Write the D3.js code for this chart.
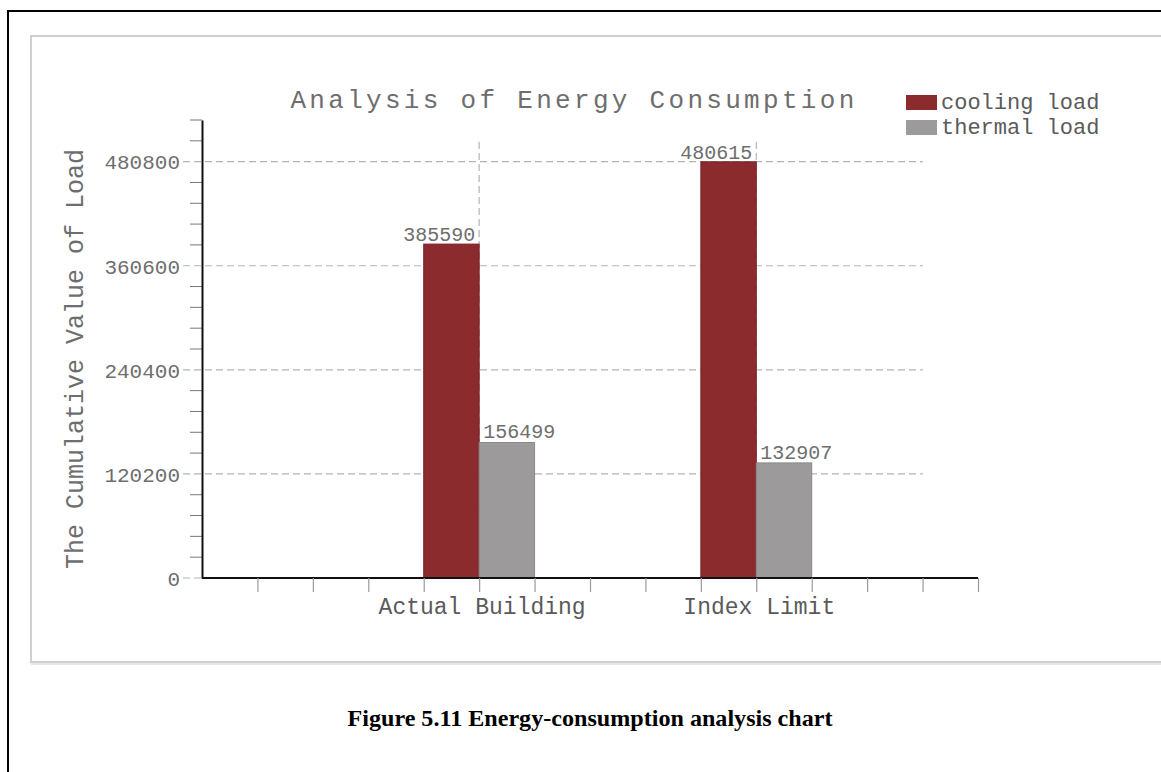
<!DOCTYPE html>
<html>
<head>
<meta charset="utf-8">
<script src="https://cdn.jsdelivr.net/npm/d3@7"></script>
<style>
  html, body { margin: 0; padding: 0; background: #fff; }
  svg { display: block; }
</style>
</head>
<body>
<svg id="chart" width="1161" height="772"></svg>
<script>
// ---- data ----
const categories = ["Actual Building", "Index Limit"];
const seriesNames = ["cooling load", "thermal load"];
const coolingLoad = [385590, 480615];
const thermalLoad = [156499, 132907];
const yTickValues = [0, 120200, 240400, 360600, 480800];
const yMax = 528880;
const yMinorStep = 24040;
const chartTitle = "Analysis of Energy Consumption";
const yAxisTitle = "The Cumulative Value of Load";
const caption = "Figure 5.11 Energy-consumption analysis chart";

const colors = ["#8c2b2e", "#9c9a9a"];
const mono = "'Liberation Mono', 'Courier New', monospace";
const textGray = "#6e6e6e";

const svg = d3.select("#chart");

// outer frame and inner panel
svg.append("rect").attr("x", 8).attr("y", 11).attr("width", 1200).attr("height", 800)
  .attr("fill", "none").attr("stroke", "#000").attr("stroke-width", 2);
svg.append("rect").attr("x", 31).attr("y", 36).attr("width", 1200).attr("height", 626)
  .attr("fill", "#fff").attr("stroke", "#cfcfcf").attr("stroke-width", 2);
svg.append("line").attr("x1", 31).attr("x2", 1161).attr("y1", 664).attr("y2", 664)
  .attr("stroke", "#e6e6e6").attr("stroke-width", 2);

// scales
const slots = 14;
const x = d3.scaleLinear().domain([0, slots]).range([202, 978]);
const y = d3.scaleLinear().domain([0, yMax]).range([578, 120]);
const slotW = x(1) - x(0);
const centerSlot = i => 5 * (i + 1);

// horizontal dashed gridlines
const g = svg.append("g");
g.selectAll("line.hgrid").data(yTickValues.slice(1)).join("line")
  .attr("class", "hgrid")
  .attr("x1", 183).attr("x2", 923)
  .attr("y1", d => y(d)).attr("y2", d => y(d))
  .attr("stroke", "#b4b4b4").attr("stroke-width", 1.2)
  .attr("stroke-dasharray", "7,4");
g.append("line").attr("x1", 183).attr("x2", 202).attr("y1", y(0)).attr("y2", y(0))
  .attr("stroke", "#b4b4b4").attr("stroke-width", 1.2).attr("stroke-dasharray", "7,4");

// vertical dashed gridlines at category centres
g.selectAll("line.vgrid").data(categories).join("line")
  .attr("class", "vgrid")
  .attr("x1", (d, i) => x(centerSlot(i))).attr("x2", (d, i) => x(centerSlot(i)))
  .attr("y1", 142).attr("y2", 578)
  .attr("stroke", "#b4b4b4").attr("stroke-width", 1.2).attr("stroke-dasharray", "7,4");

// bars
const seriesData = [coolingLoad, thermalLoad];
seriesData.forEach((vals, s) => {
  svg.append("g").selectAll("rect").data(vals).join("rect")
    .attr("x", (d, i) => x(centerSlot(i) - 1 + s))
    .attr("width", slotW)
    .attr("y", d => y(d))
    .attr("height", d => y(0) - y(d))
    .attr("fill", colors[s])
    .attr("stroke", s === 0 ? "#7a2528" : "#8a8888")
    .attr("stroke-width", 1);
});

// value labels
svg.append("g").selectAll("text").data(coolingLoad).join("text")
  .attr("x", (d, i) => x(centerSlot(i)) - 4)
  .attr("y", d => y(d) - 3)
  .attr("text-anchor", "end")
  .attr("font-family", mono).attr("font-size", 20).attr("fill", textGray)
  .text(d => d);
svg.append("g").selectAll("text").data(thermalLoad).join("text")
  .attr("x", (d, i) => x(centerSlot(i)) + 4)
  .attr("y", d => y(d) - 4)
  .attr("text-anchor", "start")
  .attr("font-family", mono).attr("font-size", 20).attr("fill", textGray)
  .text(d => d);

// y axis: minor ticks
const minorVals = d3.range(0, yMax + 1, yMinorStep).filter(v => !yTickValues.includes(v));
svg.append("g").selectAll("line").data(minorVals).join("line")
  .attr("x1", 190).attr("x2", 202)
  .attr("y1", d => y(d)).attr("y2", d => y(d))
  .attr("stroke", "#777").attr("stroke-width", 1);

// y axis line + labels
const yAxis = d3.axisLeft(y).tickValues(yTickValues).tickFormat(d3.format("d"))
  .tickSize(0).tickPadding(22);
const ya = svg.append("g").attr("transform", "translate(202,0)").call(yAxis);
ya.select(".domain").attr("stroke", "#111").attr("stroke-width", 2);
ya.selectAll("text").attr("font-family", mono).attr("font-size", 21)
  .attr("fill", textGray).attr("dy", "0.35em");

// x axis
const xAxis = d3.axisBottom(x).tickValues(d3.range(1, slots + 1)).tickSize(14).tickFormat("");
const xa = svg.append("g").attr("transform", "translate(0,578)").call(xAxis);
xa.select(".domain").attr("stroke", "#111").attr("stroke-width", 2).attr("d", "M202,0H978");
xa.selectAll(".tick line").attr("stroke", "#9a9a9a").attr("stroke-width", 1.2);

// category labels
svg.append("g").selectAll("text").data(categories).join("text")
  .attr("x", (d, i) => x(centerSlot(i)) + 3)
  .attr("y", 614)
  .attr("text-anchor", "middle")
  .attr("font-family", mono).attr("font-size", 23).attr("fill", "#5a5a5a")
  .text(d => d);

// title
svg.append("text").attr("x", 574).attr("y", 108)
  .attr("text-anchor", "middle")
  .attr("font-family", mono).attr("font-size", 26).attr("letter-spacing", 3.3)
  .attr("fill", textGray).text(chartTitle);

// y axis title
svg.append("text").attr("transform", "translate(83,359) rotate(-90)")
  .attr("text-anchor", "middle")
  .attr("font-family", mono).attr("font-size", 25).attr("fill", textGray)
  .text(yAxisTitle);

// legend
const leg = svg.append("g").selectAll("g").data(seriesNames).join("g")
  .attr("transform", (d, i) => `translate(906,${95 + i * 25})`);
leg.append("rect").attr("width", 31).attr("height", 15)
  .attr("fill", (d, i) => colors[i]);
leg.append("text").attr("x", 35).attr("y", 14)
  .attr("font-family", mono).attr("font-size", 22).attr("fill", "#5a5a5a")
  .text(d => d);

// caption
svg.append("text").attr("x", 590).attr("y", 726)
  .attr("text-anchor", "middle")
  .attr("font-family", "'Liberation Serif', 'Times New Roman', serif")
  .attr("font-weight", "bold").attr("font-size", 24).attr("fill", "#000")
  .attr("textLength", 485).attr("lengthAdjust", "spacingAndGlyphs")
  .text(caption);
</script>
</body>
</html>
